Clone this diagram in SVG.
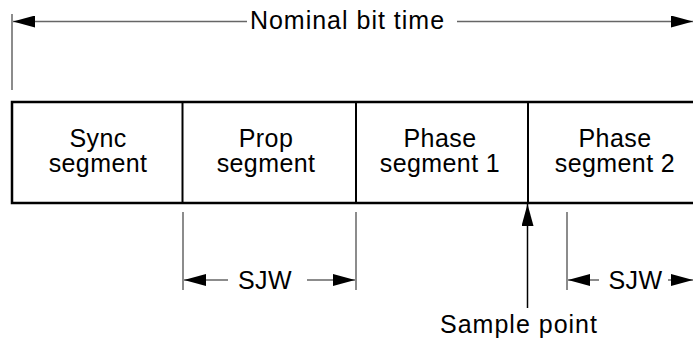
<svg xmlns="http://www.w3.org/2000/svg" width="693" height="345" viewBox="0 0 693 345">
<defs>
<marker id="ah" viewBox="0 0 22 12" refX="22" refY="6" markerWidth="22" markerHeight="12" markerUnits="userSpaceOnUse" orient="auto">
<path d="M0,0 L22,6 L0,12 Z" fill="#000"/>
</marker>
</defs>
<style>
.t{font-family:"Liberation Sans",Arial,sans-serif;font-size:25px;letter-spacing:0.4px;fill:#000;text-anchor:middle}
.dim{stroke:#666;stroke-width:1.5;fill:none}
.box{stroke:#000;stroke-width:2.5;fill:#fff}
.div{stroke:#000;stroke-width:2;fill:none}
</style>
<g id="connectors">
<line class="dim" x1="12" y1="14" x2="12" y2="90"/>
<line class="dim" x1="247" y1="21.5" x2="13" y2="21.5" marker-end="url(#ah)"/>
<line class="dim" x1="457" y1="21.5" x2="693" y2="21.5" marker-end="url(#ah)"/>
<line class="dim" x1="183" y1="212" x2="183" y2="290"/>
<line class="dim" x1="356" y1="212" x2="356" y2="290"/>
<line class="dim" x1="228" y1="280" x2="184" y2="280" marker-end="url(#ah)"/>
<line class="dim" x1="307" y1="280" x2="355" y2="280" marker-end="url(#ah)"/>
<line class="dim" x1="567" y1="212" x2="567" y2="290"/>
<line class="dim" x1="599" y1="280" x2="568" y2="280" marker-end="url(#ah)"/>
<line class="dim" x1="668" y1="280" x2="693" y2="280" marker-end="url(#ah)"/>
<line x1="527.5" y1="308" x2="527.5" y2="204" stroke="#000" stroke-width="1.5" marker-end="url(#ah)"/>
</g>
<text class="t" x="347.5" y="29" style="letter-spacing:1px">Nominal bit time</text>
<g id="sync">
<path class="box" d="M695,102 H12 V203 H695"/>
<text class="t" x="98" y="147">Sync</text>
<text class="t" x="98" y="172">segment</text>
</g>
<g id="prop">
<line class="div" x1="182.5" y1="102" x2="182.5" y2="203"/>
<text class="t" x="266" y="147">Prop</text>
<text class="t" x="266" y="172">segment</text>
</g>
<g id="phase1">
<line class="div" x1="356" y1="102" x2="356" y2="203"/>
<text class="t" x="440" y="147">Phase</text>
<text class="t" x="440" y="172">segment 1</text>
</g>
<g id="phase2">
<line class="div" x1="528" y1="102" x2="528" y2="203"/>
<text class="t" x="615" y="147">Phase</text>
<text class="t" x="615" y="172">segment 2</text>
</g>
<g id="labels">
<text class="t" x="265" y="289">SJW</text>
<text class="t" x="635.5" y="289">SJW</text>
<text class="t" x="519" y="333" style="letter-spacing:1px">Sample point</text>
</g>
</svg>
